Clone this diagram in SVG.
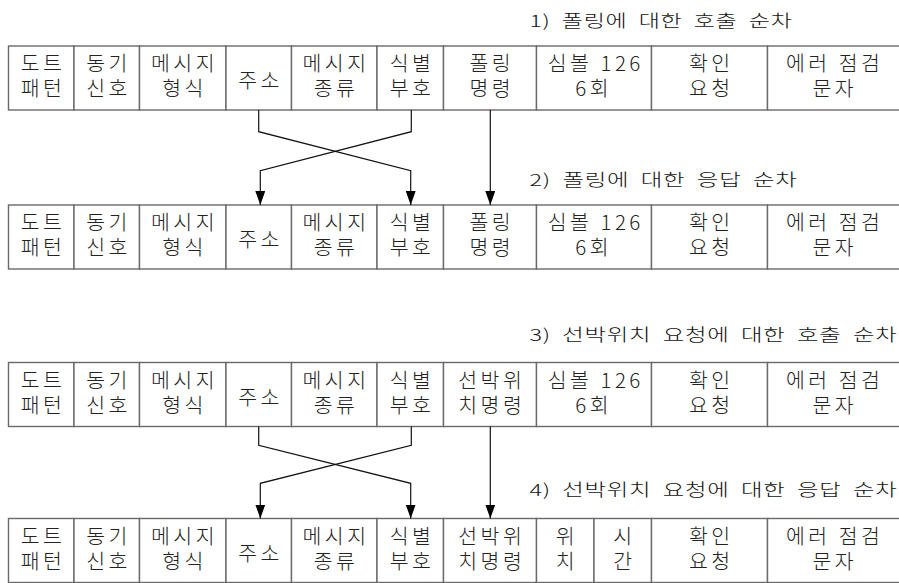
<svg xmlns="http://www.w3.org/2000/svg" width="899" height="583" viewBox="0 0 899 583">
<style>
  .cell rect { fill: #fff; stroke: #6a6a6a; stroke-width: 1.4; }
  .cell text { font-family: "Noto Sans CJK KR", "Liberation Sans", sans-serif; font-size: 20.5px; font-weight: 300; letter-spacing: 3.5px; text-anchor: middle; fill: #222; }
  .title { font-family: "Noto Sans CJK KR", "Liberation Sans", sans-serif; font-size: 16.5px; font-weight: 300; letter-spacing: 0.5px; word-spacing: 4px; fill: #111; }
  .conn path { fill: none; stroke: #111; stroke-width: 1.2; }
</style>
<defs>
  <marker id="ah" viewBox="0 0 14 10" refX="14" refY="5" markerWidth="14" markerHeight="10" markerUnits="userSpaceOnUse" orient="auto">
    <path d="M0,0 L14,5 L0,10 z" fill="#000"/>
  </marker>
</defs>
<rect width="899" height="583" fill="#fff"/>

<!-- Titles -->
<text id="title1" class="title" x="529.5" y="27" textLength="263" lengthAdjust="spacingAndGlyphs">1) 폴링에 대한 호출 순차</text>
<text id="title2" class="title" x="529.5" y="185.5" textLength="268" lengthAdjust="spacingAndGlyphs">2) 폴링에 대한 응답 순차</text>
<text id="title3" class="title" x="529.5" y="340.5" textLength="368" lengthAdjust="spacingAndGlyphs">3) 선박위치 요청에 대한 호출 순차</text>
<text id="title4" class="title" x="529.5" y="495.5" textLength="368" lengthAdjust="spacingAndGlyphs">4) 선박위치 요청에 대한 응답 순차</text>

<!-- Row 1 -->
<g id="row1">
  <g id="r1c1" class="cell"><rect x="8.5" y="46" width="65.5" height="64"/><text x="43" y="71">도트<tspan x="43" dy="25">패턴</tspan></text></g>
  <g id="r1c2" class="cell"><rect x="74" y="46" width="65.5" height="64"/><text x="108.5" y="71">동기<tspan x="108.5" dy="25">신호</tspan></text></g>
  <g id="r1c3" class="cell"><rect x="139.5" y="46" width="86.5" height="64"/><text x="184.5" y="71">메시지<tspan x="184.5" dy="25">형식</tspan></text></g>
  <g id="r1c4" class="cell"><rect x="226" y="46" width="65.5" height="64"/><text x="260.5" y="88">주소</text></g>
  <g id="r1c5" class="cell"><rect x="291.5" y="46" width="85.5" height="64"/><text x="336" y="71">메시지<tspan x="336" dy="25">종류</tspan></text></g>
  <g id="r1c6" class="cell"><rect x="377" y="46" width="66.5" height="64"/><text x="412" y="71">식별<tspan x="412" dy="25">부호</tspan></text></g>
  <g id="r1c7" class="cell"><rect x="443.5" y="46" width="93" height="64"/><text x="491.75" y="71">폴링<tspan x="491.75" dy="25">명령</tspan></text></g>
  <g id="r1c8" class="cell"><rect x="536.5" y="46" width="115" height="64"/><text x="595.75" y="71">심볼 126<tspan x="593.75" dy="25">6회</tspan></text></g>
  <g id="r1c9" class="cell"><rect x="651.5" y="46" width="116" height="64"/><text x="711.25" y="71">확인<tspan x="711.25" dy="25">요청</tspan></text></g>
  <g id="r1c10" class="cell"><rect x="767.5" y="46" width="135" height="64"/><text x="834.75" y="71">에러 점검<tspan x="834.75" dy="25">문자</tspan></text></g>
</g>

<!-- Row 2 -->
<g id="row2">
  <g id="r2c1" class="cell"><rect x="8.5" y="205" width="65.5" height="64"/><text x="43" y="230">도트<tspan x="43" dy="25">패턴</tspan></text></g>
  <g id="r2c2" class="cell"><rect x="74" y="205" width="65.5" height="64"/><text x="108.5" y="230">동기<tspan x="108.5" dy="25">신호</tspan></text></g>
  <g id="r2c3" class="cell"><rect x="139.5" y="205" width="86.5" height="64"/><text x="184.5" y="230">메시지<tspan x="184.5" dy="25">형식</tspan></text></g>
  <g id="r2c4" class="cell"><rect x="226" y="205" width="65.5" height="64"/><text x="260.5" y="247">주소</text></g>
  <g id="r2c5" class="cell"><rect x="291.5" y="205" width="85.5" height="64"/><text x="336" y="230">메시지<tspan x="336" dy="25">종류</tspan></text></g>
  <g id="r2c6" class="cell"><rect x="377" y="205" width="66.5" height="64"/><text x="412" y="230">식별<tspan x="412" dy="25">부호</tspan></text></g>
  <g id="r2c7" class="cell"><rect x="443.5" y="205" width="93" height="64"/><text x="491.75" y="230">폴링<tspan x="491.75" dy="25">명령</tspan></text></g>
  <g id="r2c8" class="cell"><rect x="536.5" y="205" width="115" height="64"/><text x="595.75" y="230">심볼 126<tspan x="593.75" dy="25">6회</tspan></text></g>
  <g id="r2c9" class="cell"><rect x="651.5" y="205" width="116" height="64"/><text x="711.25" y="230">확인<tspan x="711.25" dy="25">요청</tspan></text></g>
  <g id="r2c10" class="cell"><rect x="767.5" y="205" width="135" height="64"/><text x="834.75" y="230">에러 점검<tspan x="834.75" dy="25">문자</tspan></text></g>
</g>

<!-- Row 3 -->
<g id="row3">
  <g id="r3c1" class="cell"><rect x="8.5" y="362.5" width="65.5" height="64"/><text x="43" y="387.5">도트<tspan x="43" dy="25">패턴</tspan></text></g>
  <g id="r3c2" class="cell"><rect x="74" y="362.5" width="65.5" height="64"/><text x="108.5" y="387.5">동기<tspan x="108.5" dy="25">신호</tspan></text></g>
  <g id="r3c3" class="cell"><rect x="139.5" y="362.5" width="86.5" height="64"/><text x="184.5" y="387.5">메시지<tspan x="184.5" dy="25">형식</tspan></text></g>
  <g id="r3c4" class="cell"><rect x="226" y="362.5" width="65.5" height="64"/><text x="260.5" y="404.5">주소</text></g>
  <g id="r3c5" class="cell"><rect x="291.5" y="362.5" width="85.5" height="64"/><text x="336" y="387.5">메시지<tspan x="336" dy="25">종류</tspan></text></g>
  <g id="r3c6" class="cell"><rect x="377" y="362.5" width="66.5" height="64"/><text x="412" y="387.5">식별<tspan x="412" dy="25">부호</tspan></text></g>
  <g id="r3c7" class="cell"><rect x="443.5" y="362.5" width="93" height="64"/><text x="491.75" y="387.5">선박위<tspan x="491.75" dy="25">치명령</tspan></text></g>
  <g id="r3c8" class="cell"><rect x="536.5" y="362.5" width="115" height="64"/><text x="595.75" y="387.5">심볼 126<tspan x="593.75" dy="25">6회</tspan></text></g>
  <g id="r3c9" class="cell"><rect x="651.5" y="362.5" width="116" height="64"/><text x="711.25" y="387.5">확인<tspan x="711.25" dy="25">요청</tspan></text></g>
  <g id="r3c10" class="cell"><rect x="767.5" y="362.5" width="135" height="64"/><text x="834.75" y="387.5">에러 점검<tspan x="834.75" dy="25">문자</tspan></text></g>
</g>

<!-- Row 4 -->
<g id="row4">
  <g id="r4c1" class="cell"><rect x="8.5" y="518.5" width="65.5" height="64"/><text x="43" y="543.5">도트<tspan x="43" dy="25">패턴</tspan></text></g>
  <g id="r4c2" class="cell"><rect x="74" y="518.5" width="65.5" height="64"/><text x="108.5" y="543.5">동기<tspan x="108.5" dy="25">신호</tspan></text></g>
  <g id="r4c3" class="cell"><rect x="139.5" y="518.5" width="86.5" height="64"/><text x="184.5" y="543.5">메시지<tspan x="184.5" dy="25">형식</tspan></text></g>
  <g id="r4c4" class="cell"><rect x="226" y="518.5" width="65.5" height="64"/><text x="260.5" y="560.5">주소</text></g>
  <g id="r4c5" class="cell"><rect x="291.5" y="518.5" width="85.5" height="64"/><text x="336" y="543.5">메시지<tspan x="336" dy="25">종류</tspan></text></g>
  <g id="r4c6" class="cell"><rect x="377" y="518.5" width="66.5" height="64"/><text x="412" y="543.5">식별<tspan x="412" dy="25">부호</tspan></text></g>
  <g id="r4c7" class="cell"><rect x="443.5" y="518.5" width="93" height="64"/><text x="491.75" y="543.5">선박위<tspan x="491.75" dy="25">치명령</tspan></text></g>
  <g id="r4c8" class="cell"><rect x="536.5" y="518.5" width="57.5" height="64"/><text x="567" y="543.5">위<tspan x="567" dy="25">치</tspan></text></g>
  <g id="r4c9" class="cell"><rect x="594" y="518.5" width="57.5" height="64"/><text x="624.5" y="543.5">시<tspan x="624.5" dy="25">간</tspan></text></g>
  <g id="r4c10" class="cell"><rect x="651.5" y="518.5" width="116" height="64"/><text x="711.25" y="543.5">확인<tspan x="711.25" dy="25">요청</tspan></text></g>
  <g id="r4c11" class="cell"><rect x="767.5" y="518.5" width="135" height="64"/><text x="834.75" y="543.5">에러 점검<tspan x="834.75" dy="25">문자</tspan></text></g>
</g>

<!-- Connectors -->
<g id="connectors" class="conn">
  <path d="M258.7,110 V131.7 L410.7,170.7 V205" marker-end="url(#ah)"/>
  <path d="M411.3,110 V131.7 L260.3,170.7 V205" marker-end="url(#ah)"/>
  <path d="M490.3,110 V205" marker-end="url(#ah)"/>
  <path d="M258.7,426.5 V445.3 L410.7,483.3 V518.5" marker-end="url(#ah)"/>
  <path d="M411.3,426.5 V445.3 L260.3,483.3 V518.5" marker-end="url(#ah)"/>
  <path d="M490.3,426.5 V518.5" marker-end="url(#ah)"/>
</g>
</svg>
